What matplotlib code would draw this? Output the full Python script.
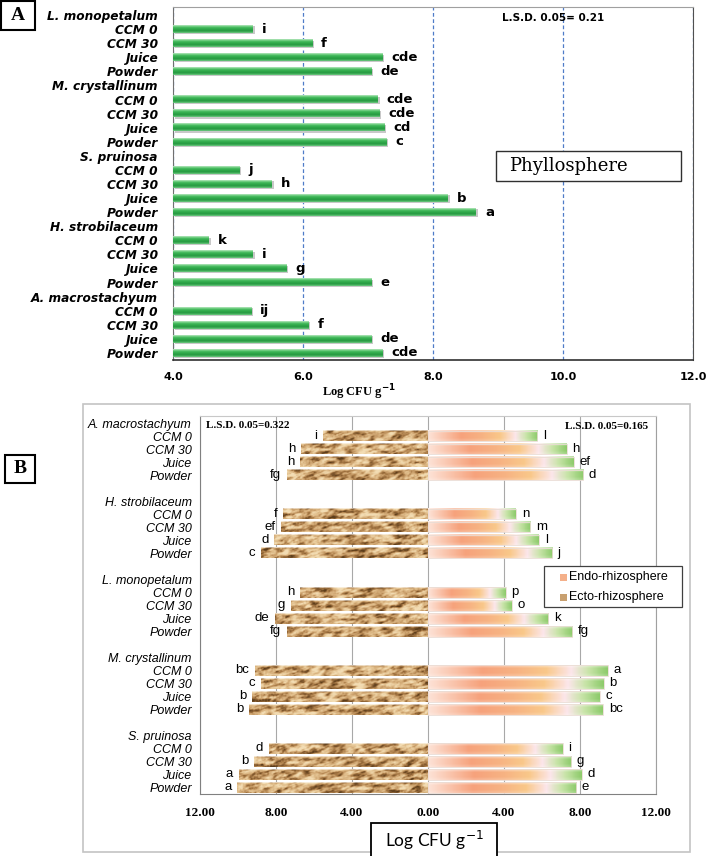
import numpy as np
import matplotlib
matplotlib.use("Agg")
import matplotlib.pyplot as plt
from matplotlib.colors import LinearSegmentedColormap
from matplotlib.patches import Rectangle

treatments = ["CCM 0", "CCM 30", "Juice", "Powder"]

# panel A : phyllosphere
species_a = ["L. monopetalum", "M. crystallinum", "S. pruinosa",
             "H. strobilaceum", "A. macrostachyum"]
phyllo = [
    [5.23, 6.14, 7.22, 7.05],
    [7.15, 7.17, 7.25, 7.28],
    [5.02, 5.52, 8.23, 8.66],
    [4.55, 5.23, 5.74, 7.05],
    [5.20, 6.08, 7.05, 7.22],
]
phyllo_letters = [
    ["i", "f", "cde", "de"],
    ["cde", "cde", "cd", "c"],
    ["j", "h", "b", "a"],
    ["k", "i", "g", "e"],
    ["ij", "f", "de", "cde"],
]

# panel B : rhizosphere (ecto to the left, endo to the right)
species_b = ["A. macrostachyum", "H. strobilaceum", "L. monopetalum",
             "M. crystallinum", "S. pruinosa"]
ecto = [
    [5.53, 6.68, 6.74, 7.42],
    [7.63, 7.74, 8.10, 8.79],
    [6.74, 7.21, 8.05, 7.42],
    [9.10, 8.79, 9.26, 9.42],
    [8.37, 9.16, 9.95, 10.05],
]
ecto_letters = [
    ["i", "h", "h", "fg"],
    ["f", "ef", "d", "c"],
    ["h", "g", "de", "fg"],
    ["bc", "c", "b", "b"],
    ["d", "b", "a", "a"],
]
endo = [
    [5.74, 7.30, 7.68, 8.16],
    [4.63, 5.37, 5.84, 6.53],
    [4.10, 4.42, 6.32, 7.58],
    [9.47, 9.26, 9.05, 9.21],
    [7.10, 7.53, 8.10, 7.79],
]
endo_letters = [
    ["l", "h", "ef", "d"],
    ["n", "m", "l", "j"],
    ["p", "o", "k", "fg"],
    ["a", "b", "c", "bc"],
    ["i", "g", "d", "e"],
]
legend_labels = ["Endo-rhizosphere", "Ecto-rhizosphere"]


def build_rows(species, gap):
    # header row for each species, then one row per treatment
    ticks, labels, items = [], [], []
    pos = 0
    for sp in species:
        ticks.append(pos)
        labels.append(sp)
        rows = []
        for k, t in enumerate(treatments):
            ticks.append(pos + 1 + k)
            labels.append(t)
            rows.append(pos + 1 + k)
        items.append(rows)
        pos += 5 + gap
    return ticks, labels, items


green_cmap = LinearSegmentedColormap.from_list(
    "g", ["#b4e6bc", "#4cc063", "#2fa84a", "#279a41", "#6cc87f"])
endo_cmap = LinearSegmentedColormap.from_list(
    "e", [(0.0, "#fde2d6"), (0.3, "#f6a27c"), (0.5, "#f7b383"),
          (0.66, "#f9c88a"), (0.8, "#fce6ea"), (0.9, "#c8e4a8"), (1.0, "#8ecb6c")])
ecto_cmap = LinearSegmentedColormap.from_list(
    "t", ["#f3ddb4", "#e2c08e", "#cca26e", "#a87a46", "#80582e", "#5c3d1a"])


def put_image(ax, patch, img):
    x0 = patch.get_x()
    x1 = x0 + patch.get_width()
    y0 = patch.get_y()
    y1 = y0 + patch.get_height()
    ax.imshow(img, extent=[min(x0, x1), max(x0, x1), max(y0, y1), min(y0, y1)],
              aspect="auto", interpolation="bilinear", zorder=3)


def hash2(ix, iy, s):
    h = np.sin(ix * 12.9898 + iy * 78.233 + s * 37.719) * 43758.5453
    return h - np.floor(h)


def value_noise(u, v, s):
    iu, iv = np.floor(u), np.floor(v)
    fu, fv = u - iu, v - iv
    fu = fu * fu * (3 - 2 * fu)
    fv = fv * fv * (3 - 2 * fv)
    a = hash2(iu, iv, s)
    b = hash2(iu + 1, iv, s)
    c = hash2(iu, iv + 1, s)
    d = hash2(iu + 1, iv + 1, s)
    return (a * (1 - fu) + b * fu) * (1 - fv) + (c * (1 - fu) + d * fu) * fv


def tan_texture(width, s):
    # rock-like tan surface, about one texel per pixel
    ncols = max(int(width * 19), 4)
    xx, yy = np.meshgrid(np.arange(ncols, dtype=float), np.arange(11, dtype=float))
    u = xx + 0.9 * yy
    n = (0.55 * value_noise(u / 7.0, yy / 3.0, s)
         + 0.3 * value_noise(u / 3.0, yy / 2.0, s + 5)
         + 0.15 * value_noise(xx / 1.5, yy / 1.5, s + 9))
    n = np.clip((n - 0.2) / 0.65, 0, 1)
    img = ecto_cmap(n ** 1.3)[:, :, :3]
    img[0] = img[0] * 0.5 + 0.5          # light top edge
    return img


fig = plt.figure(figsize=(7.11, 8.56), dpi=100)

# ---------------- panel A ----------------
axA = fig.add_axes([173 / 711, 1 - 360 / 856, 520 / 711, 353 / 856])
ticks_a, labels_a, items_a = build_rows(species_a, 0)

vert = green_cmap(np.linspace(0, 1, 24))[:, None, :3]
for g in range(len(species_a)):
    bars = axA.barh(items_a[g], [v - 4 for v in phyllo[g]], left=4, height=0.54,
                    color="none", edgecolor="none")
    for k, b in enumerate(bars):
        # soft shadow
        axA.add_patch(Rectangle((b.get_x() + 0.03, b.get_y() + 0.08), b.get_width(),
                                b.get_height(), color="#c8c8c8", zorder=2, lw=0))
        put_image(axA, b, vert)
        axA.text(phyllo[g][k] + 0.14, items_a[g][k], phyllo_letters[g][k],
                 ha="left", va="center", fontsize=9.5, fontweight="bold",
                 family="DejaVu Sans", zorder=4)

axA.set_xlim(4, 12)
axA.set_ylim(24.5, -0.57)
axA.set_xticks([4, 6, 8, 10, 12])
axA.set_xticklabels(["4.0", "6.0", "8.0", "10.0", "12.0"], fontsize=8,
                    fontweight="bold", family="DejaVu Sans")
axA.set_yticks(ticks_a)
axA.set_yticklabels(labels_a, fontsize=8.7, fontweight="bold", style="italic",
                    family="DejaVu Sans")
axA.tick_params(axis="both", length=0)
axA.tick_params(axis="x", pad=9)
axA.tick_params(axis="y", pad=11)
axA.xaxis.grid(True, linestyle=(0, (3, 2)), color="#4f7cc8", lw=0.9)
axA.set_axisbelow(True)
axA.spines["left"].set_color("#707070")
axA.spines["bottom"].set_color("#303030")
axA.spines["bottom"].set_linewidth(1.2)
axA.spines["top"].set_color("#a0a0a0")
axA.spines["right"].set_color("#505050")

axA.text(0.633, 0.969, "L.S.D. 0.05= 0.21", transform=axA.transAxes, ha="left",
         va="center", fontsize=7.5, fontweight="bold", family="DejaVu Sans")
axA.add_patch(Rectangle((0.621, 0.507), 0.356, 0.085, transform=axA.transAxes,
                        fc="white", ec="#303030", lw=1.0, zorder=5))
axA.text(0.646, 0.55, "Phyllosphere", transform=axA.transAxes, ha="left",
         va="center", fontsize=13, family="DejaVu Serif", zorder=6)
fig.text(359 / 711, 1 - 392 / 856, "Log CFU g$^{\\mathbf{-1}}$", ha="center",
         va="center", fontsize=9, fontweight="bold", family="Liberation Serif")

# panel letters
fig.patches.append(Rectangle((1 / 711, 1 - 30 / 856), 34 / 711, 29 / 856,
                             transform=fig.transFigure, fc="white", ec="black", lw=1.5))
fig.text(18 / 711, 1 - 16 / 856, "A", ha="center", va="center", fontsize=14,
         fontweight="bold", family="Liberation Serif")
fig.patches.append(Rectangle((5 / 711, 1 - 483 / 856), 30 / 711, 28 / 856,
                             transform=fig.transFigure, fc="white", ec="black", lw=1.5))
fig.text(20 / 711, 1 - 469 / 856, "B", ha="center", va="center", fontsize=14,
         fontweight="bold", family="Liberation Serif")

# ---------------- panel B ----------------
fig.patches.append(Rectangle((83 / 711, 1 - 852 / 856), 607 / 711, 448 / 856,
                             transform=fig.transFigure, fc="none", ec="#c4c4c4", lw=1.2))
axB = fig.add_axes([200 / 711, 1 - 794 / 856, 456 / 711, 378 / 856])
ticks_b, labels_b, items_b = build_rows(species_b, 1)

shade = np.concatenate([np.linspace(0.55, 1.0, 5), np.ones(6), np.linspace(1.0, 0.8, 5)])
horiz = endo_cmap(np.linspace(0, 1, 120))[:, :3]
endo_img = horiz[None, :, :] * shade[:, None, None] + (1 - shade[:, None, None])
for g in range(len(species_b)):
    lbars = axB.barh(items_b[g], [-v for v in ecto[g]], height=0.8,
                     color="none", edgecolor="none")
    rbars = axB.barh(items_b[g], endo[g], height=0.8, color="none",
                     edgecolor="none")
    for k in range(4):
        put_image(axB, lbars[k], tan_texture(ecto[g][k], 4 * g + k))
        put_image(axB, rbars[k], endo_img)
        axB.add_patch(Rectangle((rbars[k].get_x(), rbars[k].get_y()),
                                rbars[k].get_width(), rbars[k].get_height(),
                                fc="none", ec="#eadcd4", lw=0.6, zorder=3.5))
        axB.text(-ecto[g][k] - 0.3, items_b[g][k], ecto_letters[g][k], ha="right",
                 va="center", fontsize=9.5, family="Liberation Sans", zorder=4)
        axB.text(endo[g][k] + 0.3, items_b[g][k], endo_letters[g][k], ha="left",
                 va="center", fontsize=9.5, family="Liberation Sans", zorder=4)

axB.set_xlim(-12, 12)
axB.set_ylim(28.5, -0.55)
xt = [-12, -8, -4, 0, 4, 8, 12]
axB.set_xticks(xt)
axB.set_xticklabels(["%.2f" % abs(t) for t in xt], fontsize=9.5, fontweight="bold",
                    family="Liberation Serif")
axB.set_yticks(ticks_b)
axB.set_yticklabels(labels_b, fontsize=9, style="italic", family="Liberation Sans")
axB.tick_params(axis="both", length=0)
axB.tick_params(axis="x", pad=9)
axB.tick_params(axis="y", pad=6)
axB.xaxis.grid(True, color="#a8a8a8", lw=0.8)
axB.set_axisbelow(True)
axB.spines["left"].set_color("#808080")
axB.spines["bottom"].set_color("#808080")
axB.spines["top"].set_color("#c8c8c8")
axB.spines["right"].set_color("#a0a0a0")

axB.text(-11.7, 0.2, "L.S.D. 0.05=0.322", ha="left", va="center", fontsize=8,
         fontweight="bold", family="Liberation Serif", zorder=5)
axB.text(7.2, 0.25, "L.S.D. 0.05=0.165", ha="left", va="center", fontsize=8,
         fontweight="bold", family="Liberation Serif", zorder=5)

# legend box drawn by hand so the padding matches
fig.patches.append(Rectangle((544 / 711, 1 - 607 / 856), 138 / 711, 41 / 856,
                             transform=fig.transFigure, fc="white", ec="#404040", lw=0.9))
for i, (lab, col) in enumerate(zip(legend_labels, ["#f4b08a", "#c8a070"])):
    yc = 577 + 20 * i
    fig.patches.append(Rectangle((560 / 711, 1 - (yc + 3.5) / 856), 7 / 711, 7 / 856,
                                 transform=fig.transFigure, fc=col, ec="none"))
    fig.text(569 / 711, 1 - yc / 856, lab, ha="left", va="center", fontsize=9,
             family="Liberation Sans")

fig.patches.append(Rectangle((371 / 711, -0.01), 126 / 711, (856 - 823) / 856 + 0.01,
                             transform=fig.transFigure, fc="white", ec="black", lw=1.3))
fig.text(434 / 711, 1 - 840 / 856, "Log CFU g$^{-1}$", ha="center", va="center",
         fontsize=12.5, family="Lato")

fig.savefig("out.png", dpi=100)
